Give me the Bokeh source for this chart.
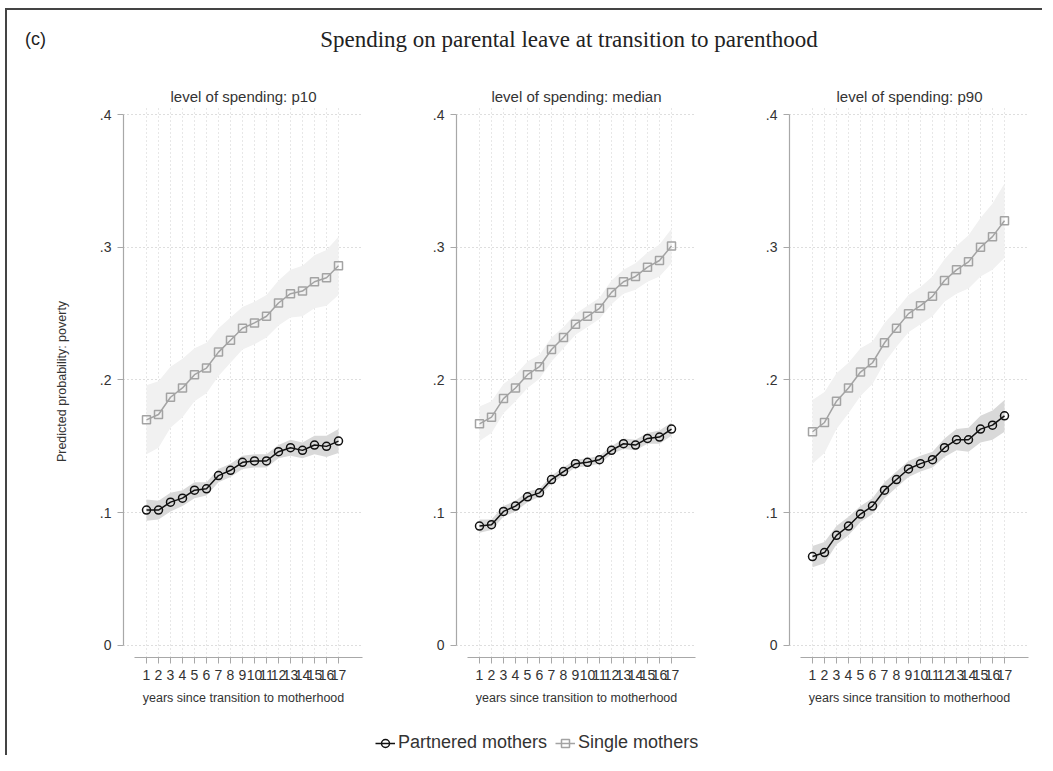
from bokeh.plotting import figure
from bokeh.layouts import column, row
from bokeh.models import (Range1d, FixedTicker, CustomJSTickFormatter, Div, Legend,
                          LegendItem, ColumnDataSource)
from bokeh.embed import file_html
from bokeh.resources import INLINE

# ---------------- data ----------------
years = list(range(1, 18))
x_ticks = list(range(1, 18))
y_ticks = [0, 0.1, 0.2, 0.3, 0.4]

panel_titles = ["level of spending: p10", "level of spending: median", "level of spending: p90"]
series_names = ["Partnered mothers", "Single mothers"]

p10_partnered = [0.102, 0.102, 0.108, 0.111, 0.117, 0.118, 0.128, 0.132, 0.138, 0.139, 0.139, 0.146, 0.149, 0.147, 0.151, 0.150, 0.154]
p10_single = [0.170, 0.174, 0.187, 0.194, 0.204, 0.209, 0.221, 0.230, 0.239, 0.243, 0.248, 0.258, 0.265, 0.267, 0.274, 0.277, 0.286]
median_partnered = [0.090, 0.091, 0.101, 0.105, 0.112, 0.115, 0.125, 0.131, 0.137, 0.138, 0.140, 0.147, 0.152, 0.151, 0.156, 0.157, 0.163]
median_single = [0.167, 0.172, 0.186, 0.194, 0.204, 0.210, 0.223, 0.232, 0.242, 0.248, 0.254, 0.266, 0.274, 0.278, 0.285, 0.290, 0.301]
p90_partnered = [0.067, 0.070, 0.083, 0.090, 0.099, 0.105, 0.117, 0.125, 0.133, 0.137, 0.140, 0.149, 0.155, 0.155, 0.163, 0.166, 0.173]
p90_single = [0.161, 0.168, 0.184, 0.194, 0.206, 0.213, 0.228, 0.239, 0.250, 0.256, 0.263, 0.275, 0.283, 0.289, 0.300, 0.308, 0.320]

# half-widths of confidence bands
p10_partnered_hw = [0.008, 0.007, 0.007, 0.006, 0.006, 0.005, 0.005, 0.005, 0.005, 0.005, 0.005, 0.005, 0.006, 0.006, 0.007, 0.008, 0.009]
p10_single_hw = [0.026, 0.025, 0.023, 0.022, 0.020, 0.019, 0.018, 0.017, 0.016, 0.016, 0.016, 0.017, 0.018, 0.019, 0.020, 0.021, 0.022]
median_partnered_hw = [0.005, 0.004, 0.004, 0.004, 0.004, 0.003, 0.003, 0.003, 0.003, 0.003, 0.003, 0.003, 0.004, 0.004, 0.004, 0.005, 0.005]
median_single_hw = [0.013, 0.012, 0.011, 0.010, 0.010, 0.009, 0.009, 0.008, 0.008, 0.008, 0.008, 0.009, 0.009, 0.010, 0.011, 0.012, 0.013]
p90_partnered_hw = [0.008, 0.008, 0.007, 0.007, 0.006, 0.006, 0.006, 0.006, 0.006, 0.006, 0.006, 0.007, 0.008, 0.009, 0.010, 0.011, 0.012]
p90_single_hw = [0.024, 0.023, 0.021, 0.019, 0.018, 0.016, 0.015, 0.014, 0.014, 0.014, 0.015, 0.016, 0.018, 0.020, 0.022, 0.025, 0.028]

panels = [
    (p10_partnered, p10_partnered_hw, p10_single, p10_single_hw),
    (median_partnered, median_partnered_hw, median_single, median_single_hw),
    (p90_partnered, p90_partnered_hw, p90_single, p90_single_hw),
]

# ---------------- style ----------------
FONT = "Liberation Sans"
PART_COLOR = "#111111"
SINGLE_COLOR = "#a3a3a3"
PART_BAND = "#d9d9d9"
SINGLE_BAND = "#f1f1f1"
AXIS_COLOR = "#a8a8a8"
TXT = "#333333"

y_fmt = CustomJSTickFormatter(code="""
    if (Math.abs(tick) < 1e-9) return "0";
    return tick.toFixed(1).replace(/^0/, "");
""")

figs = []
for i, (pv, phw, sv, shw) in enumerate(panels):
    left = 116 if i == 0 else 93
    right = 5 if i == 2 else 0
    p = figure(frame_width=240, frame_height=552,
               x_range=Range1d(-0.9167, 19.0833), y_range=Range1d(-0.00904, 0.40678),
               output_backend="svg", toolbar_location=None,
               min_border_left=left, min_border_right=right,
               min_border_top=25, min_border_bottom=58,
               title=panel_titles[i])
    p.title.align = "center"
    p.title.text_font = FONT
    p.title.text_font_size = "15px"
    p.title.text_font_style = "normal"
    p.title.text_color = TXT
    p.title.standoff = 2
    p.title.offset = -6
    p.outline_line_color = None
    p.background_fill_color = "white"

    # grids
    p.xgrid.ticker = FixedTicker(ticks=x_ticks)
    p.xgrid.grid_line_color = "#cfcfcf"
    p.xgrid.grid_line_dash = "1 3"
    p.xgrid.grid_line_width = 1
    p.ygrid.ticker = FixedTicker(ticks=y_ticks)
    p.ygrid.grid_line_color = "#bdbdbd"
    p.ygrid.grid_line_dash = "1 3"
    p.ygrid.grid_line_width = 1

    # axes
    xa = p.xaxis[0]
    xa.ticker = FixedTicker(ticks=x_ticks)
    xa.bounds = (0, 19)
    xa.axis_label = "years since transition to motherhood"
    ya = p.yaxis[0]
    ya.ticker = FixedTicker(ticks=y_ticks)
    ya.formatter = y_fmt
    ya.bounds = (0, 0.4)
    ya.major_label_orientation = "horizontal"
    if i == 0:
        ya.axis_label = "Predicted probability: poverty"
        ya.axis_label_standoff = 28
    for ax in (xa, ya):
        ax.axis_line_color = AXIS_COLOR
        ax.axis_line_width = 1.2
        ax.major_tick_line_color = AXIS_COLOR
        ax.major_tick_out = 6
        ax.major_tick_in = 0
        ax.minor_tick_line_color = None
        ax.major_label_text_font = FONT
        ax.major_label_text_font_size = "14px"
        ax.major_label_text_color = TXT
        ax.axis_label_text_font = FONT
        ax.axis_label_text_font_size = "12.5px"
        ax.axis_label_text_font_style = "normal"
        ax.axis_label_text_color = TXT
    xa.major_label_standoff = 6
    xa.axis_label_standoff = 8
    ya.major_label_standoff = 6

    src = ColumnDataSource(dict(
        x=years,
        part=pv,
        part_lo=[v - h for v, h in zip(pv, phw)],
        part_hi=[v + h for v, h in zip(pv, phw)],
        single=sv,
        single_lo=[v - h for v, h in zip(sv, shw)],
        single_hi=[v + h for v, h in zip(sv, shw)],
    ))
    p.varea(x="x", y1="single_lo", y2="single_hi", source=src, fill_color=SINGLE_BAND)
    p.varea(x="x", y1="part_lo", y2="part_hi", source=src, fill_color=PART_BAND)
    p.line(x="x", y="single", source=src, line_color=SINGLE_COLOR, line_width=1.5)
    p.scatter(x="x", y="single", source=src, marker="square", size=8,
              line_color=SINGLE_COLOR, line_width=1.5, fill_alpha=0)
    p.line(x="x", y="part", source=src, line_color=PART_COLOR, line_width=1.5)
    p.scatter(x="x", y="part", source=src, marker="circle", size=8,
              line_color=PART_COLOR, line_width=1.5, fill_alpha=0)
    figs.append(p)

# ---------------- legend strip ----------------
lg = figure(width=1025, height=40, x_range=Range1d(0, 1), y_range=Range1d(0, 1),
            output_backend="svg", toolbar_location=None,
            min_border=0)
lg.axis.visible = False
lg.grid.visible = False
lg.outline_line_color = None
# legend-only renderers (a single NaN row so the legend glyphs are drawn, nothing plotted)
dummy = ColumnDataSource(dict(x=[float("nan")], y=[float("nan")]))
r1 = lg.line(x="x", y="y", source=dummy, line_color=PART_COLOR, line_width=1.5)
r2 = lg.scatter(x="x", y="y", source=dummy, marker="circle", size=8,
                line_color=PART_COLOR, line_width=1.5, fill_alpha=0)
r3 = lg.line(x="x", y="y", source=dummy, line_color=SINGLE_COLOR, line_width=1.5)
r4 = lg.scatter(x="x", y="y", source=dummy, marker="square", size=8,
                line_color=SINGLE_COLOR, line_width=1.5, fill_alpha=0)
legend = Legend(items=[LegendItem(label=series_names[0], renderers=[r1, r2], index=0),
                       LegendItem(label=series_names[1], renderers=[r3, r4], index=0)],
                orientation="horizontal", location=(368, 2),
                label_text_font=FONT, label_text_font_size="18px", label_text_color=TXT,
                glyph_width=20, label_standoff=3, spacing=8, padding=0, margin=0,
                border_line_color=None, background_fill_alpha=0)
lg.add_layout(legend, "center")

# ---------------- header ----------------
header = Div(width=1025, height=60, text="""
<div style="position:relative;width:1025px;height:60px;">
  <span style="position:absolute;left:13px;top:12px;font-family:'Liberation Sans';font-size:18px;color:#222;">(c)</span>
  <span style="position:absolute;left:557px;top:9px;transform:translateX(-50%);white-space:nowrap;
               font-family:'Liberation Serif';font-size:23px;color:#222;">Spending on parental leave at transition to parenthood</span>
</div>
""")

layout = column(header, row(*figs), lg,
                styles={"border-left": "2px solid #444", "border-top": "2px solid #444",
                        "margin-left": "5px", "margin-top": "8px"})

open("out.html", "w").write(file_html(layout, INLINE))
